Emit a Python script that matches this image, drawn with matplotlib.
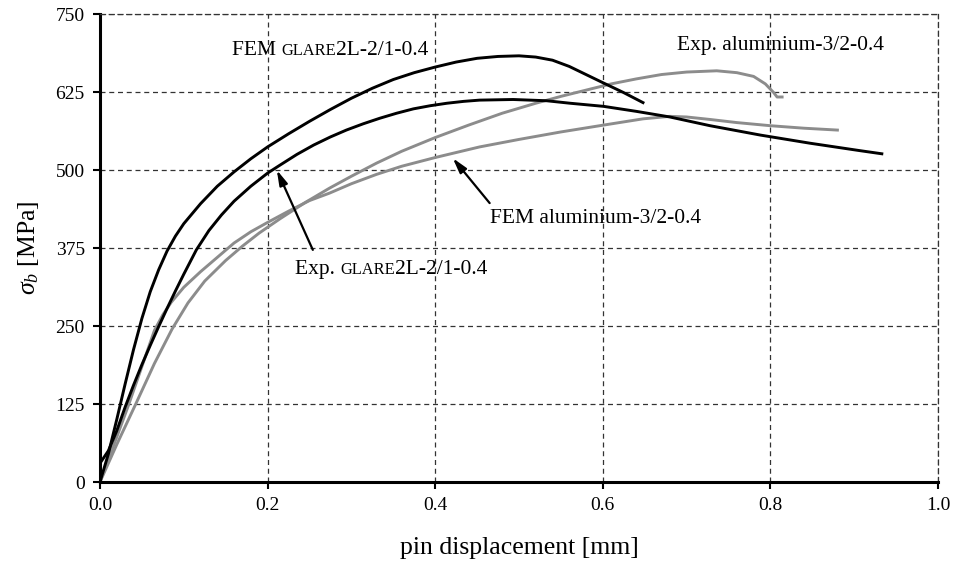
import matplotlib
matplotlib.use('Agg')
import matplotlib.pyplot as plt
from matplotlib.offsetbox import TextArea, HPacker, AnnotationBbox

plt.rcParams['font.family'] = ['Liberation Serif', 'DejaVu Serif']
plt.rcParams['mathtext.fontset'] = 'custom'
plt.rcParams['mathtext.rm'] = 'Liberation Serif'
plt.rcParams['mathtext.it'] = 'Liberation Serif:italic'

# pin displacement [mm] / bearing stress [MPa]
fem_glare_x = [0.0, 0.01, 0.02, 0.03, 0.04, 0.05, 0.06, 0.07, 0.08, 0.09, 0.10, 0.12, 0.14,
               0.16, 0.18, 0.20, 0.225, 0.25, 0.275, 0.30, 0.325, 0.35, 0.375, 0.40, 0.425,
               0.45, 0.475, 0.50, 0.52, 0.54, 0.56, 0.58, 0.60, 0.625, 0.648]
fem_glare_y = [0, 45, 100, 157, 212, 262, 305, 340, 370, 394, 414, 446, 474,
               497, 518, 537, 558, 578, 597, 615, 631, 645, 656, 665, 673,
               679, 682, 683, 681, 676, 666, 653, 640, 624, 608]

exp_glare_x = [0.0, 0.01, 0.02, 0.03, 0.04, 0.05, 0.06, 0.07, 0.08, 0.09, 0.10, 0.115, 0.13,
               0.145, 0.16, 0.18, 0.20, 0.215, 0.235, 0.255, 0.275, 0.294, 0.314, 0.334,
               0.354, 0.374, 0.394, 0.414, 0.434, 0.453, 0.493, 0.533, 0.561, 0.601, 0.640,
               0.680, 0.728, 0.788, 0.847, 0.907, 0.933]
exp_glare_y = [30, 50, 82, 120, 155, 188, 219, 249, 278, 306, 333, 372, 403,
               428, 450, 474, 495, 508, 525, 540, 553, 564, 574, 583,
               591, 598, 603, 607, 610, 612, 613, 611, 607, 602, 594,
               585, 571, 556, 543, 531, 526]

fem_alu_x = [0.0, 0.02, 0.034, 0.05, 0.065, 0.075, 0.085, 0.10, 0.12, 0.14, 0.16, 0.18, 0.20,
             0.225, 0.25, 0.274, 0.30, 0.33, 0.36, 0.40, 0.453, 0.50, 0.55, 0.601, 0.648,
             0.68, 0.70, 0.728, 0.76, 0.80, 0.84, 0.88]
fem_alu_y = [0, 72, 123, 185, 243, 268, 288, 312, 337, 360, 383, 401, 416,
             434, 451, 463, 478, 493, 506, 520, 537, 549, 561, 572, 582,
             586, 585, 581, 576, 571, 567, 564]

exp_alu_x = [0.0, 0.02, 0.042, 0.065, 0.086, 0.105, 0.125, 0.15, 0.17, 0.19, 0.215, 0.245,
             0.274, 0.30, 0.33, 0.36, 0.40, 0.44, 0.48, 0.52, 0.55, 0.58, 0.61, 0.64, 0.67,
             0.70, 0.736, 0.76, 0.78, 0.794, 0.804, 0.808, 0.814]
exp_alu_y = [0, 60, 123, 190, 245, 287, 322, 355, 378, 399, 422, 448,
             471, 490, 511, 530, 552, 572, 591, 607, 618, 628, 638, 646, 653,
             657, 659, 656, 650, 638, 624, 617, 617]

x_ticks = [0.0, 0.2, 0.4, 0.6, 0.8, 1.0]
y_ticks = [0, 125, 250, 375, 500, 625, 750]

black = '#000000'
grey = '#8c8c8c'

fig = plt.figure(figsize=(9.54, 5.65), dpi=100)
ax = fig.add_axes([0.1048, 0.1469, 0.8784, 0.8283])

ax.plot(fem_alu_x, fem_alu_y, color=grey, lw=2.1)
ax.plot(exp_alu_x, exp_alu_y, color=grey, lw=2.1)
ax.plot(exp_glare_x, exp_glare_y, color=black, lw=2.1)
ax.plot(fem_glare_x, fem_glare_y, color=black, lw=2.1)

ax.set_xlim(0, 1.0)
ax.set_ylim(0, 750)
ax.set_xticks(x_ticks)
ax.set_yticks(y_ticks)
ax.set_xticklabels(['%.1f' % v for v in x_ticks])
ax.tick_params(direction='out', length=5, width=1.5, labelsize=14, pad=6)
ax.grid(True, linestyle=(0, (4, 3)), color='#333333', lw=0.9)

for s in ['left', 'bottom']:
    ax.spines[s].set_linewidth(2.2)
for s in ['top', 'right']:
    ax.spines[s].set_linestyle((0, (4, 3)))
    ax.spines[s].set_color('#333333')
    ax.spines[s].set_linewidth(0.9)

ax.set_xlabel('pin displacement [mm]', fontsize=18.5, labelpad=16)
ax.set_ylabel(r'$\sigma_b$ [MPa]', fontsize=18.5, labelpad=10)

fs = 15.5
sc = 11.8


def glare_label(prefix):
    # small caps imitation for GLARE
    parts = [TextArea(prefix, textprops=dict(fontsize=fs)),
             TextArea('GLARE', textprops=dict(fontsize=sc)),
             TextArea('2L-2/1-0.4', textprops=dict(fontsize=fs))]
    return HPacker(children=parts, align='baseline', pad=0, sep=0)


def place(box, xy, align):
    ab = AnnotationBbox(box, xy, xycoords='data', frameon=False, box_alignment=align, pad=0)
    ax.add_artist(ab)


place(glare_label('FEM '), (0.157, 691), (0.0, 0.5))
place(glare_label('Exp. '), (0.233, 341), (0.0, 0.5))
ax.text(0.688, 700, 'Exp. aluminium-3/2-0.4', fontsize=fs, ha='left', va='center')
ax.text(0.466, 423, 'FEM aluminium-3/2-0.4', fontsize=fs, ha='left', va='center')

arrow = dict(arrowstyle='-|>,head_length=0.9,head_width=0.25', color='black', lw=1.6,
             shrinkA=0, shrinkB=0)
ax.annotate('', xy=(0.211, 500), xytext=(0.254, 372), arrowprops=arrow)
ax.annotate('', xy=(0.421, 519), xytext=(0.465, 447), arrowprops=arrow)

fig.savefig('out.png', dpi=100)
